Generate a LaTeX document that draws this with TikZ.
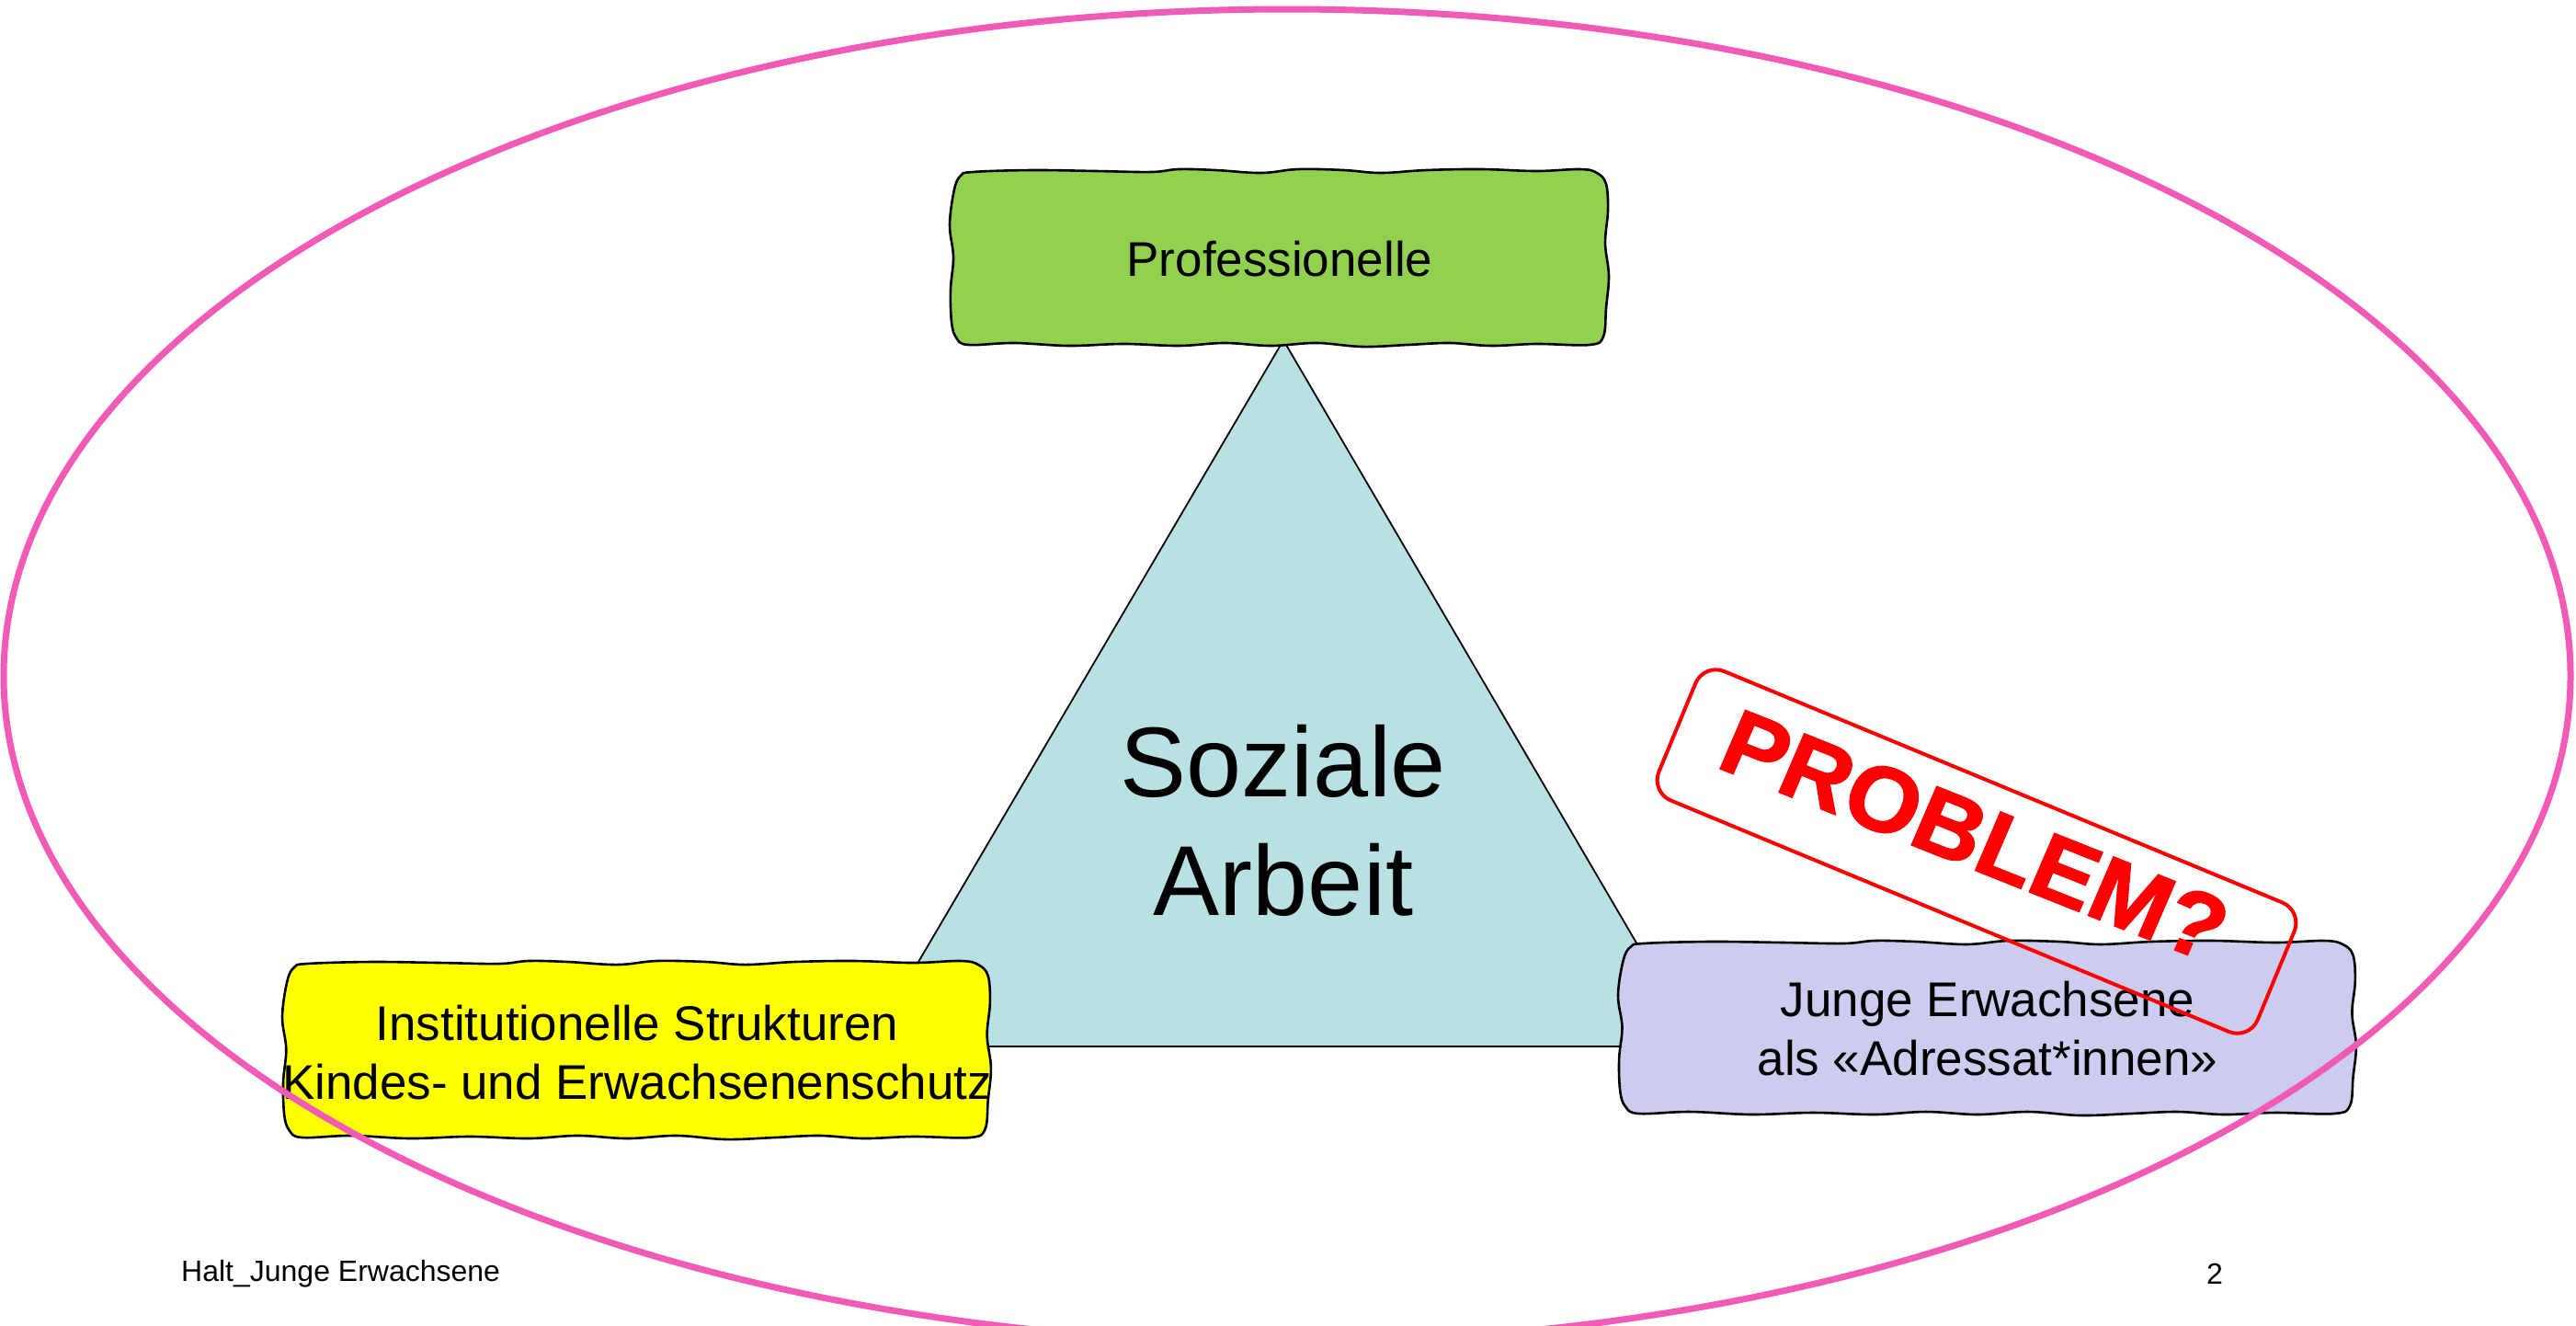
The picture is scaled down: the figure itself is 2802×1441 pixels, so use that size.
\documentclass[tikz,border=0pt]{standalone}
\usepackage{fontspec}
\setmainfont{Liberation Sans}
\newfontfamily\stampfont[BoldFeatures={FakeBold=1.6}]{Liberation Sans}
\definecolor{profgreen}{HTML}{92D050}
\definecolor{instyellow}{HTML}{FFFF00}
\definecolor{jungelav}{HTML}{CCCCEE}
\definecolor{tricol}{HTML}{B9E0E3}
\definecolor{ellpink}{HTML}{F25AB8}
\definecolor{stampred}{HTML}{FF0000}
\tikzset{
  wavybox/.pic={
    \filldraw[pic actions] plot[smooth cycle, tension=0.6] coordinates {
      (25,3) (90,1) (160,2) (220,3) (250,0) (290,1) (340,4) (380,0) (430,1) (470,4) (520,1) (580,0) (640,2) (688,0)
      (706,4) (716,16)
      (718,45) (715,80) (719,115) (716,150)
      (713,181) (698,190)
      (640,189) (590,191) (545,188) (500,190) (450,192) (400,188) (350,191) (300,188) (250,191) (190,189) (130,191) (70,188) (20,190)
      (7,182) (2,165)
      (1,130) (4,95) (0,60) (5,22)
      (12,7)
    };
  },
  boxline/.style={draw=black, line width=2.6},
  boxtext/.style={align=center, font=\fontsize{53}{64}\selectfont, inner sep=0pt},
}
\begin{document}
\begin{tikzpicture}[x=1pt,y=-1pt]
\useasboundingbox (0,0) rectangle (2802,1441);
\clip (0,0) rectangle (2802,1441);
\fill[white] (0,0) rectangle (2802,1441);

% triangle
\filldraw[fill=tricol, draw=black, line width=1.8] (1396,370) -- (945,1138) -- (1846,1138) -- cycle;
\node[align=center, font=\fontsize{108}{129}\selectfont, inner sep=0pt] (sa) at (1396,892) {Soziale\\Arbeit};

% boxes
\pic[boxline, fill=profgreen, xscale=718/720, yscale=191/190] at (1033,184) {wavybox};
\node[boxtext] (prof) at (1392,282) {Professionelle};

\pic[boxline, fill=instyellow, xscale=772/720, yscale=192/190] at (307,1045) {wavybox};
\node[boxtext] (inst) at (693,1145) {Institutionelle Strukturen\\Kindes- und Erwachsenenschutz};

\pic[boxline, fill=jungelav, xscale=804/720, yscale=188/190] at (1760,1023) {wavybox};
\node[boxtext] (junge) at (2162,1119) {Junge Erwachsene\\als «Adressat*innen»};

% stamp
\node[draw=stampred, line width=4, rounded corners=24, minimum width=705, minimum height=152, rotate=-22.5, inner sep=0pt] (stamp) at (2150,926) {};
\node[text=stampred, font=\stampfont\bfseries\fontsize{100}{100}\selectfont, xscale=1.04, rotate=-22.5, inner sep=0pt] (problem) at (2148,909) {PROBLEM?};

% ellipse
\draw[ellpink, line width=7] (1400,735) ellipse [x radius=1396, y radius=725];

% footer
\node[anchor=west, font=\fontsize{32}{38}\selectfont, inner sep=0pt] (footer) at (197,1385) {Halt\_Junge Erwachsene};
\node[font=\fontsize{32}{38}\selectfont, inner sep=0pt] (pagenum) at (2409,1385) {2};
\end{tikzpicture}
\end{document}
